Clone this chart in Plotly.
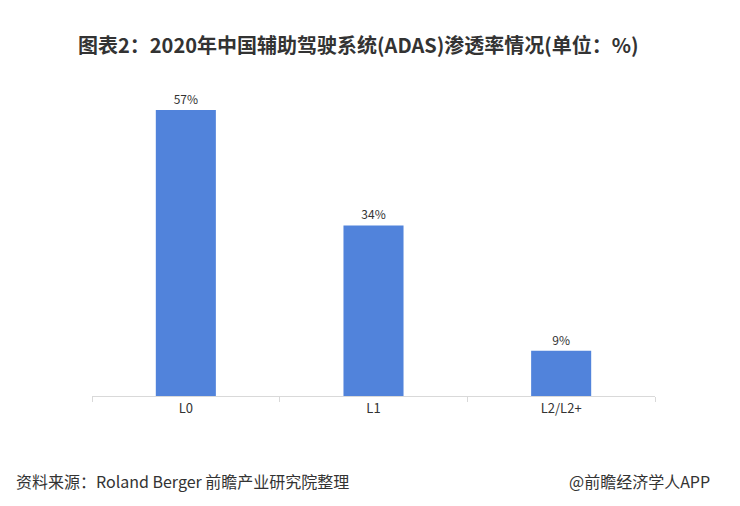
import plotly.graph_objects as go

categories = ["L0", "L1", "L2/L2+"]
rates = [57, 34, 9]
labels = ["57%", "34%", "9%"]

title_text = "图表2：2020年中国辅助驾驶系统(ADAS)渗透率情况(单位：%)"
source_text = "资料来源：Roland Berger 前瞻产业研究院整理"
brand_text = "@前瞻经济学人APP"

font_cn = "Noto Sans CJK SC, Microsoft YaHei, sans-serif"

fig = go.Figure()
fig.add_trace(go.Bar(
    x=categories, y=rates,
    text=labels, textposition="outside",
    textfont=dict(size=12, color="#333333"),
    marker=dict(color="#5183DB", line=dict(width=0)),
    cliponaxis=False,
))

fig.add_annotation(
    xref="paper", yref="paper", x=0.474, y=1, yanchor="middle", yshift=51,
    text="<b>" + title_text + "</b>",
    showarrow=False, font=dict(family=font_cn, size=20, color="#333333"),
)
fig.add_annotation(
    xref="paper", yref="paper", x=-0.139, xanchor="left", y=0, yanchor="middle", yshift=-85,
    text=source_text, showarrow=False,
    font=dict(family=font_cn, size=16, color="#333333"),
)
fig.add_annotation(
    xref="paper", yref="paper", x=1.101, xanchor="right", y=0, yanchor="middle", yshift=-85,
    text=brand_text, showarrow=False,
    font=dict(family=font_cn, size=16, color="#333333"),
)

# page body adds ~8px offset, so margins are shifted to compensate
fig.update_layout(
    width=740, height=506,
    margin=dict(l=84, r=93, t=87, b=118),
    paper_bgcolor="white", plot_bgcolor="white",
    font=dict(family=font_cn, color="#333333"),
    bargap=0.68,
    showlegend=False,
    xaxis=dict(
        showline=True, linecolor="#d9d9d9", linewidth=1,
        ticks="outside", tickson="boundaries", ticklen=5, tickcolor="#d9d9d9",
        tickfont=dict(size=13, color="#333333"),
        showgrid=False,
    ),
    yaxis=dict(
        range=[0, 60], visible=False, showgrid=False, zeroline=False,
    ),
)

fig.write_html("out.html")
